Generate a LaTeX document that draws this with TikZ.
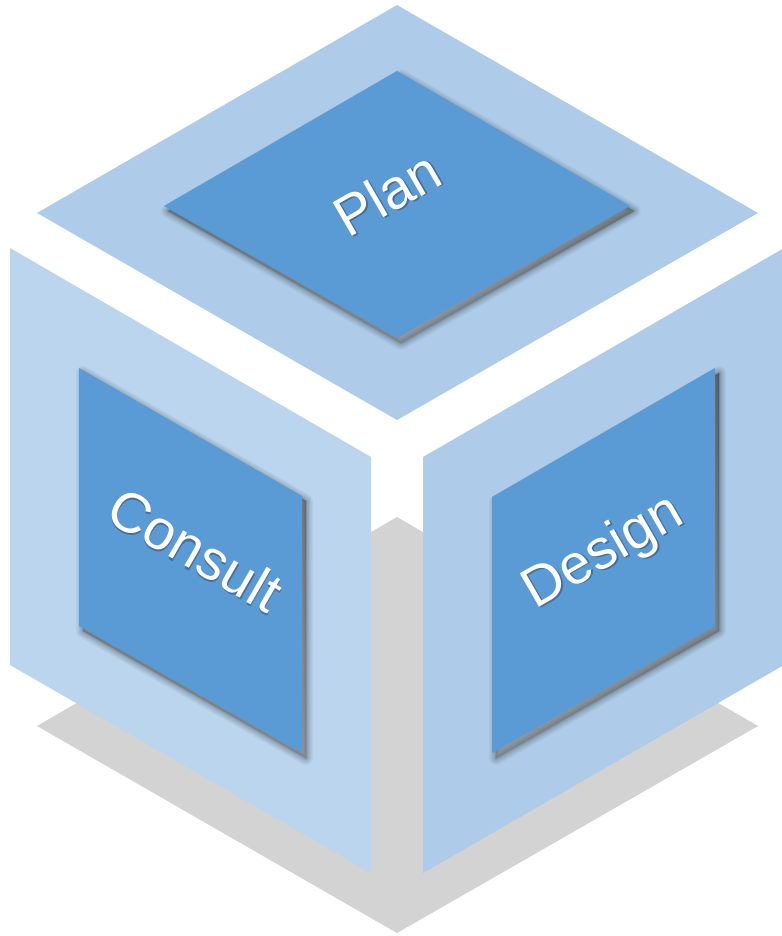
\documentclass[tikz,border=0pt]{standalone}
\usepackage{fontspec}
\setmainfont{Liberation Sans}
\definecolor{topface}{RGB}{174,204,234}
\definecolor{leftface}{RGB}{186,213,237}
\definecolor{rightface}{RGB}{174,204,233}
\definecolor{panel}{RGB}{91,155,213}
\definecolor{floorgray}{RGB}{211,211,211}
\definecolor{shade}{RGB}{45,60,80}
\colorlet{textshade}{panel!55!shade}

% soft shadow under a panel: widening translucent outlines, offset down-right
\newcommand\softshadow[1]{%
  \foreach \w/\op in {14/0.04,11/0.05,8/0.06,5/0.07,2.5/0.08}{%
    \filldraw[shade, opacity=\op, line width=\w*0.75pt, line join=round, shift={(4,5)}] #1;}%
  \fill[shade, opacity=0.2, shift={(4,5)}] #1;}

% white label with a small dark shadow behind it
\newcommand\shadowedtext[1]{%
  \makebox[0pt][l]{\hspace{1.3pt}\raisebox{-1.3pt}{\textcolor{textshade}{#1}}}#1}

\begin{document}
\begin{tikzpicture}[x=0.75pt, y=-0.75pt,
  facelabel/.style={text=white, font=\fontsize{42}{42}\selectfont, inner sep=0pt}]
\useasboundingbox (0,0) rectangle (782,936);

% floor shadow of the cube
\fill[floorgray] (397,517) -- (758,726) -- (397,933) -- (37,726) -- cycle;

% the three faces
\fill[topface]   (397,5) -- (758,213) -- (397,420) -- (37,213) -- cycle;
\fill[leftface]  (10,248) -- (371,457) -- (371,873) -- (10,665) -- cycle;
\fill[rightface] (423,457) -- (784,248) -- (784,665) -- (423,873) -- cycle;

% inner panels with their shadows
\softshadow{(164,206) -- (397,71) -- (630,206) -- (397,338) -- cycle}
\fill[panel] (164,206) -- (397,71) -- (630,206) -- (397,338) -- cycle;

\softshadow{(79,368) -- (302,496) -- (302,753) -- (79,626) -- cycle}
\fill[panel] (79,368) -- (302,496) -- (302,753) -- (79,626) -- cycle;

\softshadow{(492,497) -- (715,368) -- (715,626) -- (492,753) -- cycle}
\fill[panel] (492,497) -- (715,368) -- (715,626) -- (492,753) -- cycle;

% labels
\node[facelabel, rotate=30]  (plan)    at (387,194) {\shadowedtext{Plan}};
\node[facelabel, rotate=-30] (consult) at (195,550) {\shadowedtext{Consult}};
\node[facelabel, rotate=30]  (design)  at (604,554) {\shadowedtext{Design}};
\end{tikzpicture}
\end{document}
